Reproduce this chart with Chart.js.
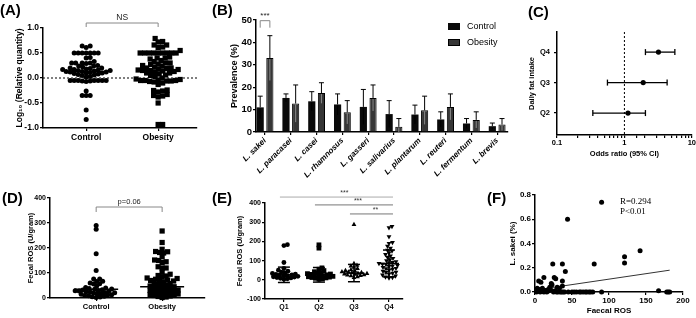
<!DOCTYPE html>
<html>
<head>
<meta charset="utf-8">
<script src="https://cdn.jsdelivr.net/npm/chart.js@4.4.1/dist/chart.umd.min.js"></script>
<style>
  body { margin: 0; background: #fff; }
  #fig { position: relative; width: 696px; height: 318px; overflow: hidden; font-family: 'Liberation Sans', Arial, sans-serif; }
  #fig canvas { position: absolute; }
  .tag { position: absolute; font-size: 15px; font-weight: bold; line-height: 1; }
  .key { position: absolute; font-size: 9px; line-height: 1; white-space: nowrap; }
  .key i { position: absolute; left: -19px; top: 1px; width: 12px; height: 7px; box-sizing: border-box; }
  .stat { position: absolute; font-family: 'Liberation Serif', 'Times New Roman', serif; font-size: 9px; line-height: 1; }
</style>
</head>
<body>
<div id="fig">
  <canvas id="chartA" width="205" height="150" style="left:0;top:0"></canvas>
  <canvas id="chartB" width="290" height="190" style="left:222px;top:0"></canvas>
  <canvas id="chartC" width="191" height="165" style="left:505px;top:0"></canvas>
  <canvas id="chartD" width="210" height="133" style="left:0;top:185px"></canvas>
  <canvas id="chartE" width="180" height="133" style="left:230px;top:185px"></canvas>
  <canvas id="chartF" width="206" height="133" style="left:490px;top:185px"></canvas>

  <div class="tag" style="left:0;top:2px">(A)</div>
  <div class="tag" style="left:212px;top:2px">(B)</div>
  <div class="tag" style="left:528px;top:4px">(C)</div>
  <div class="tag" style="left:2px;top:190px">(D)</div>
  <div class="tag" style="left:212px;top:190px">(E)</div>
  <div class="tag" style="left:487px;top:190px">(F)</div>

  <div class="key" style="left:467px;top:22px"><i style="background:#0a0a0a"></i>Control</div>
  <div class="key" style="left:467px;top:38px"><i style="background:#363636;border:1px solid #000"></i>Obesity</div>

  <div class="stat" style="left:620px;top:197px">R=0.294</div>
  <div class="stat" style="left:620px;top:207px">P&lt;0.01</div>
</div>
<script>
// ---- data ----

// (A) log10 relative quantity
const groupsAD = ['Control', 'Obesity'];
const logRelControl = [0.64, 0.64, 0.61, 0.5, 0.5, 0.5, 0.5, 0.5, 0.5, 0.5, 0.41, 0.4, 0.33, 0.3, 0.3, 0.3, 0.3,
  0.29, 0.25, 0.24, 0.24, 0.22, 0.2, 0.2, 0.19, 0.18, 0.17, 0.17, 0.16, 0.15, 0.15, 0.14, 0.13, 0.13, 0.12, 0.12,
  0.11, 0.1, 0.1, 0.09, 0.08, 0.07, 0.06, 0.05, 0.03, 0.02, -0.05, -0.05, -0.05, -0.05, -0.05, -0.05, -0.05,
  -0.06, -0.06, -0.07, -0.26, -0.35, -0.35, -0.35, -0.64, -0.83];
const logRelObesity = [0.79, 0.73, 0.72, 0.66, 0.66, 0.62, 0.61, 0.55, 0.5, 0.5, 0.5, 0.5, 0.5, 0.5, 0.5, 0.5, 0.5,
  0.42, 0.4, 0.4, 0.38, 0.35, 0.33, 0.3, 0.3, 0.28, 0.27, 0.25, 0.24, 0.22, 0.2, 0.2, 0.19, 0.18, 0.17, 0.16, 0.15,
  0.15, 0.14, 0.13, 0.12, 0.1, 0.1, 0.08, 0.06, 0.05, 0.03, 0.0, -0.02, -0.03, -0.04, -0.05, -0.05, -0.05, -0.06,
  -0.06, -0.07, -0.08, -0.1, -0.13, -0.24, -0.25, -0.26, -0.28, -0.33, -0.35, -0.36, -0.38, -0.5, -0.93, -0.93];
const logRelMeans = [0.13, 0.15];

// (B) prevalence (%), bar value and top of SD whisker
const species = ['L. sakei', 'L. paracasei', 'L. casei', 'L. rhamnosus', 'L. gasseri', 'L. salivarius',
  'L. plantarum', 'L. reuteri', 'L. fermentum', 'L. brevis'];
const prevControl = [11, 15.2, 13.7, 12.3, 11.2, 8.0, 7.8, 5.6, 3.8, 2.6];
const prevControlHi = [16, 17, 18, 17, 19, 14, 12, 9, 6, 4];
const prevObesity = [33, 12.7, 17.4, 8.8, 15.2, 2.3, 9.7, 11.2, 5.4, 3.3];
const prevObesityHi = [43, 21, 22, 14, 21, 6, 16, 17, 9, 6];

// (C) odds ratios by daily fat intake quartile
const fatQuartiles = ['Q2', 'Q3', 'Q4'];
const fatOR = [1.13, 1.9, 3.2];
const fatLow = [0.34, 0.56, 2.05];
const fatHigh = [2.05, 4.3, 5.6];

// (D) fecal ROS (U/gram)
const rosControl = [290, 275, 177, 110, 76, 66, 57, 56, 60, 67, 76, 48, 42, 40, 38, 36, 35, 33, 32, 30, 29, 28,
  26, 25, 24, 22, 21, 20, 18, 16, 15, 13, 12, 10, 9, 7, 5, 4, 2];
const rosObesity = [268, 222, 195, 186, 185, 182, 180, 165, 152, 150, 145, 142, 125, 120, 120, 103, 95, 90, 88,
  85, 80, 78, 75, 72, 70, 70, 68, 65, 60, 58, 55, 52, 50, 48, 45, 43, 40, 38, 36, 34, 32, 30, 28, 26, 24, 22, 20,
  18, 16, 14, 12, 10, 8, 6, 4, 2];
const rosMeans = [35, 45];

// (E) fecal ROS by quartile
const quartiles = ['Q1', 'Q2', 'Q3', 'Q4'];
const rosQ1 = [183, 178, 90, 60, 50, 45, 40, 36, 33, 30, 28, 26, 24, 22, 20, 18, 16, 14, 12, 10, 8, 5, 3];
const rosQ2 = [182, 165, 62, 55, 48, 42, 38, 35, 32, 30, 28, 26, 24, 22, 20, 18, 16, 14, 12, 10, 8, 5, 3];
const rosQ3 = [288, 85, 75, 72, 65, 58, 52, 48, 45, 42, 40, 38, 36, 34, 32, 30, 28, 26, 24, 22, 20, 16, 12];
const rosQ4 = [278, 272, 225, 195, 190, 175, 165, 155, 150, 140, 132, 125, 118, 112, 105, 100, 95, 90, 88, 85,
  82, 80, 75, 72, 70, 65, 60, 58, 55, 50, 45, 40, 38, 35, 30, 25, 20, 15, 12, 10];
const rosQMeans = [26, 26, 35, 85];
const rosQSd = [40, 38, 45, 70];
const rosQSig = [[0, 3, '***', 431], [1, 3, '***', 390], [2, 3, '**', 343]];

// (F) L. sakei (%) vs faecal ROS
const fRos = [90, 44, 142, 121, 121, 80, 24, 37, 41, 12, 26, 28, 5, 8, 37, 37, 22, 23, 20, 3, 6, 10, 15, 18, 30,
  33, 2, 4, 7, 9, 12, 14, 16, 19, 21, 25, 27, 29, 31, 34, 36, 38, 40, 45, 50, 53, 56, 60, 62, 65, 68, 70, 73, 75,
  78, 90, 167, 178, 180, 182];
const fSakei = [0.74, 0.60, 0.34, 0.29, 0.24, 0.23, 0.23, 0.23, 0.17, 0.12, 0.12, 0.11, 0.09, 0.08, 0.09, 0.05,
  0.07, 0.06, 0.04, 0.03, 0.02, 0.03, 0.01, 0.02, 0.04, 0.03, 0, 0.01, 0, 0.01, 0, 0.01, 0, 0.01, 0.02, 0, 0.01,
  0, 0, 0, 0, 0, 0, 0, 0, 0, 0, 0, 0, 0, 0, 0, 0, 0, 0, 0, 0.01, 0, 0, 0];
const fitX = [10, 182];
const fitY = [0.025, 0.18];

// ---- shared setup ----
const FONT = "'Liberation Sans', Arial, sans-serif";
Chart.defaults.font.family = FONT;
Chart.defaults.color = '#000';
Chart.defaults.animation = false;
Chart.defaults.responsive = false;
Chart.defaults.plugins.legend.display = false;
Chart.defaults.plugins.tooltip.enabled = false;

function axis(size, fontSize, extra) {
  const { ticks = {}, ...rest } = extra;
  return {
    afterFit: (s) => { if (s.isHorizontal()) s.height = size; else s.width = size; },
    border: { color: '#000', width: 1.5 },
    grid: { drawOnChartArea: false, color: '#000', lineWidth: 1.2, tickLength: 3 },
    ticks: { color: '#000', font: { size: fontSize, weight: 'bold' }, padding: 1, maxRotation: 0, autoSkip: false, ...ticks },
    ...rest,
  };
}

function axisTitle(text, fontSize, gap) {
  return { display: true, text, color: '#000', font: { size: fontSize, weight: 'bold' }, padding: { top: gap, bottom: gap } };
}

function pinTicks(values) {
  return (s) => { s.ticks = values.map((value) => ({ value })); };
}

function line(ctx, x1, y1, x2, y2) {
  ctx.beginPath();
  ctx.moveTo(x1, y1);
  ctx.lineTo(x2, y2);
  ctx.stroke();
}

// bracket with a label above it, ends dropping `drop` px
function bracket(ctx, x1, x2, y, drop, label, fontSize) {
  ctx.save();
  ctx.strokeStyle = '#888';
  ctx.lineWidth = 1;
  ctx.beginPath();
  ctx.moveTo(x1, y + drop);
  ctx.lineTo(x1, y);
  ctx.lineTo(x2, y);
  ctx.lineTo(x2, y + drop);
  ctx.stroke();
  ctx.fillStyle = '#222';
  ctx.font = `${fontSize}px ${FONT}`;
  ctx.textAlign = 'center';
  ctx.textBaseline = 'bottom';
  ctx.fillText(label, (x1 + x2) / 2, y - 1);
  ctx.restore();
}

// spread a column of values sideways so markers don't pile up
function swarm(chart, values, center, minGap) {
  const xs = chart.scales.x;
  const ys = chart.scales.y;
  const cx = xs.getPixelForValue(center);
  const placed = [];
  return values.slice().sort((a, b) => a - b).map((v) => {
    const py = ys.getPixelForValue(v);
    let px = cx;
    for (let k = 0; k < 600; k++) {
      const tx = cx + (k % 2 ? 1 : -1) * Math.ceil(k / 2) * 0.5;
      if (placed.every((p) => (p.x - tx) ** 2 + (p.y - py) ** 2 >= minGap * minGap)) { px = tx; break; }
    }
    placed.push({ x: px, y: py });
    return { x: xs.getValueForPixel(px), y: v };
  });
}

function dots(style, radius, rotation) {
  return {
    data: [], pointStyle: style, pointRadius: radius, pointRotation: rotation || 0,
    pointBackgroundColor: '#000', pointBorderWidth: 0, clip: false,
  };
}

// ---- (A) ----
const chartA = new Chart(document.getElementById('chartA'), {
  type: 'scatter',
  data: { datasets: [dots('circle', 2.5), dots('rect', 3.7)] },
  options: {
    layout: { padding: { top: 28, right: 8, bottom: 0, left: 0 } },
    scales: {
      x: axis(22, 8.5, { type: 'linear', min: -0.6, max: 1.54, afterBuildTicks: pinTicks([0, 1]),
        ticks: { padding: 2, callback: (v) => groupsAD[v] } }),
      y: axis(43, 8.5, { min: -1, max: 1, afterBuildTicks: pinTicks([-1, -0.5, 0, 0.5, 1]),
        ticks: { callback: (v) => v.toFixed(1) }, title: axisTitle('Log\u2081\u2080 (Relative quantity)', 8.5, 14.9) }),
    },
  },
  plugins: [{
    id: 'marksA',
    beforeDatasetsDraw(chart) {
      const { ctx, chartArea, scales: { y } } = chart;
      ctx.save();
      ctx.strokeStyle = '#000';
      ctx.lineWidth = 1;
      ctx.setLineDash([2, 2]);
      const y0 = y.getPixelForValue(0);
      line(ctx, chartArea.left, y0, chartArea.right, y0);
      ctx.restore();
    },
    afterDatasetsDraw(chart) {
      const { ctx, scales: { x, y } } = chart;
      ctx.save();
      ctx.strokeStyle = '#000';
      ctx.lineWidth = 1.5;
      logRelMeans.forEach((m, i) => {
        const cx = x.getPixelForValue(i);
        const py = y.getPixelForValue(m);
        line(ctx, cx - 21, py, cx + 21, py);
      });
      ctx.restore();
      bracket(ctx, x.getPixelForValue(0), x.getPixelForValue(1), y.getPixelForValue(1.1), 4, 'NS', 8.5);
    },
  }],
});
chartA.data.datasets[0].data = swarm(chartA, logRelControl, 0, 4);
chartA.data.datasets[1].data = swarm(chartA, logRelObesity, 1, 4.4);
chartA.update('none');

// ---- (B) ----
function whiskerPlugin() {
  return {
    id: 'whiskersB',
    afterDatasetsDraw(chart) {
      const { ctx, scales: { y } } = chart;
      const highs = [prevControlHi, prevObesityHi];
      const vals = [prevControl, prevObesity];
      const inner = ['#000', '#8a8a8a'];
      ctx.save();
      ctx.lineWidth = 1;
      chart.getSortedVisibleDatasetMetas().forEach((meta, d) => {
        meta.data.forEach((bar, i) => {
          const top = y.getPixelForValue(vals[d][i]);
          const hi = y.getPixelForValue(highs[d][i]);
          const lo = y.getPixelForValue(2 * vals[d][i] - highs[d][i]);
          ctx.strokeStyle = '#000';
          line(ctx, bar.x, top, bar.x, hi);
          line(ctx, bar.x - 2.5, hi, bar.x + 2.5, hi);
          ctx.strokeStyle = inner[d];
          line(ctx, bar.x, top + 1, bar.x, Math.min(lo, y.getPixelForValue(0)));
        });
      });
      ctx.restore();
      const c = chart.getDatasetMeta(0).data[0];
      const o = chart.getDatasetMeta(1).data[0];
      bracket(ctx, c.x, o.x, y.getPixelForValue(49.7), 7, '***', 8);
    },
  };
}

new Chart(document.getElementById('chartB'), {
  type: 'bar',
  data: {
    datasets: [
      { label: 'Control', data: prevControl.map((v, i) => ({ x: i, y: v })), backgroundColor: '#0a0a0a', borderWidth: 0 },
      { label: 'Obesity', data: prevObesity.map((v, i) => ({ x: i, y: v })), backgroundColor: '#363636', borderColor: '#000', borderWidth: 1 },
    ],
  },
  options: {
    layout: { padding: { top: 20, right: 4, bottom: 0, left: 0 } },
    datasets: { bar: { categoryPercentage: 0.75, barPercentage: 0.74 } },
    scales: {
      x: axis(58, 8, { type: 'linear', offset: false, min: -0.35, max: 9.42, afterBuildTicks: pinTicks(species.map((_, i) => i)),
        grid: { drawOnChartArea: false, offset: false, color: '#000', lineWidth: 1.2, tickLength: 3 },
        ticks: { minRotation: 45, maxRotation: 45, padding: 1, font: { size: 8, weight: 'bold', style: 'italic' },
          callback: (v) => species[v] } }),
      y: axis(34, 9.5, { min: 0, max: 50, afterBuildTicks: pinTicks([0, 10, 20, 30, 40, 50]),
        title: axisTitle('Prevalence (%)', 9, 7.6) }),
    },
  },
  plugins: [whiskerPlugin()],
});

// ---- (C) ----
new Chart(document.getElementById('chartC'), {
  type: 'scatter',
  data: { datasets: [{ ...dots('circle', 2.6), data: fatOR.map((v, i) => ({ x: v, y: i })) }] },
  options: {
    layout: { padding: { top: 32, right: 4, bottom: 0, left: 0 } },
    scales: {
      x: axis(30, 7.5, { type: 'logarithmic', min: 0.1, max: 10,
        ticks: { padding: 0, callback: (v) => {
          const l = Math.log10(v);
          return Math.abs(l - Math.round(l)) < 1e-6 ? String(+v.toPrecision(3)) : '';
        } },
        title: axisTitle('Odds ratio (95% CI)', 7.5, 6.5) }),
      y: axis(52, 7.5, { min: -0.72, max: 2.66, afterBuildTicks: pinTicks([0, 1, 2]),
        ticks: { padding: 4, callback: (v) => fatQuartiles[v] },
        title: axisTitle('Daily fat intake', 7.5, 22.5) }),
    },
  },
  plugins: [{
    id: 'ciC',
    beforeDatasetsDraw(chart) {
      const { ctx, chartArea, scales: { x, y } } = chart;
      ctx.save();
      ctx.strokeStyle = '#000';
      ctx.lineWidth = 1;
      ctx.setLineDash([2, 2]);
      const x1 = x.getPixelForValue(1);
      line(ctx, x1, chartArea.top, x1, chartArea.bottom);
      ctx.setLineDash([]);
      ctx.lineWidth = 1.3;
      fatOR.forEach((_, i) => {
        const py = y.getPixelForValue(i);
        const a = x.getPixelForValue(fatLow[i]);
        const b = x.getPixelForValue(fatHigh[i]);
        line(ctx, a, py, b, py);
        line(ctx, a, py - 3, a, py + 3);
        line(ctx, b, py - 3, b, py + 3);
      });
      ctx.restore();
    },
  }],
});

// ---- (D) ----
const chartD = new Chart(document.getElementById('chartD'), {
  type: 'scatter',
  data: { datasets: [dots('circle', 2.5), dots('rect', 3.7)] },
  options: {
    layout: { padding: { top: 13, right: 5, bottom: 0, left: 0 } },
    scales: {
      x: axis(20, 7.5, { type: 'linear', min: -0.7, max: 1.65, afterBuildTicks: pinTicks([0, 1]),
        ticks: { padding: 1, callback: (v) => groupsAD[v] } }),
      y: axis(50, 7, { min: 0, max: 400, afterBuildTicks: pinTicks([0, 100, 200, 300, 400]),
        title: axisTitle('Fecal ROS (U/gram)', 7.5, 26.5) }),
    },
  },
  plugins: [{
    id: 'marksD',
    afterDatasetsDraw(chart) {
      const { ctx, scales: { x, y } } = chart;
      ctx.save();
      ctx.strokeStyle = '#000';
      ctx.lineWidth = 1.5;
      rosMeans.forEach((m, i) => {
        const cx = x.getPixelForValue(i);
        const py = y.getPixelForValue(m);
        line(ctx, cx - 22, py, cx + 22, py);
      });
      ctx.restore();
      bracket(ctx, x.getPixelForValue(0), x.getPixelForValue(1), y.getPixelForValue(364), 5, 'p=0.06', 7.5);
    },
  }],
});
chartD.data.datasets[0].data = swarm(chartD, rosControl, 0, 3.6);
chartD.data.datasets[1].data = swarm(chartD, rosObesity, 1, 4);
chartD.update('none');

// ---- (E) ----
const chartE = new Chart(document.getElementById('chartE'), {
  type: 'scatter',
  data: { datasets: [dots('circle', 2.4), dots('rect', 3.4), dots('triangle', 2.8), dots('triangle', 2.8, 180)] },
  options: {
    layout: { padding: { top: 18, right: 7, bottom: 0, left: 0 } },
    scales: {
      x: axis(19, 7, { type: 'linear', min: -0.54, max: 3.4, afterBuildTicks: pinTicks([0, 1, 2, 3]),
        ticks: { padding: 1, callback: (v) => quartiles[v] } }),
      y: axis(35, 7, { min: -100, max: 400, afterBuildTicks: pinTicks([-100, 0, 100, 200, 300, 400]),
        title: axisTitle('Fecal ROS (U/gram)', 7.5, 5.5) }),
    },
  },
  plugins: [{
    id: 'marksE',
    afterDatasetsDraw(chart) {
      const { ctx, scales: { x, y } } = chart;
      ctx.save();
      ctx.strokeStyle = '#000';
      ctx.lineWidth = 1.5;
      rosQMeans.forEach((m, i) => {
        const cx = x.getPixelForValue(i);
        const pm = y.getPixelForValue(m);
        const ph = y.getPixelForValue(m + rosQSd[i]);
        const pl = y.getPixelForValue(m - rosQSd[i]);
        line(ctx, cx - 10, pm, cx + 10, pm);
        line(ctx, cx, ph, cx, pl);
        line(ctx, cx - 6, ph, cx + 6, ph);
        line(ctx, cx - 6, pl, cx + 6, pl);
      });
      ctx.lineWidth = 1;
      ctx.font = `7px ${FONT}`;
      ctx.textAlign = 'center';
      ctx.textBaseline = 'bottom';
      rosQSig.forEach(([a, b, label, at], k) => {
        const x1 = x.getPixelForValue(a) - 4;
        const x2 = x.getPixelForValue(b) + 4;
        const py = y.getPixelForValue(at);
        ctx.strokeStyle = k === 0 ? '#aaa' : '#777';
        line(ctx, x1, py, x2, py);
        ctx.fillStyle = '#333';
        ctx.fillText(label, (x1 + x2) / 2 + (k === 0 ? 8 : 4), py);
      });
      ctx.restore();
    },
  }],
});
[rosQ1, rosQ2, rosQ3, rosQ4].forEach((vals, i) => {
  chartE.data.datasets[i].data = swarm(chartE, vals, i, 3.2);
});
chartE.update('none');

// ---- (F) ----
new Chart(document.getElementById('chartF'), {
  type: 'scatter',
  data: {
    datasets: [
      { ...dots('circle', 2.5), data: fRos.map((x, i) => ({ x, y: fSakei[i] })) },
      { data: fitX.map((x, i) => ({ x, y: fitY[i] })), showLine: true, pointRadius: 0, borderColor: '#333', borderWidth: 1 },
    ],
  },
  options: {
    layout: { padding: { top: 10, right: 13, bottom: 0, left: 0 } },
    scales: {
      x: axis(26, 8, { min: 0, max: 200, afterBuildTicks: pinTicks([0, 50, 100, 150, 200]),
        title: axisTitle('Faecal ROS', 8, 2.5) }),
      y: axis(45, 8, { min: 0, max: 0.8, afterBuildTicks: pinTicks([0, 0.2, 0.4, 0.6, 0.8]),
        ticks: { callback: (v) => v.toFixed(1) }, title: axisTitle('L. sakei (%)', 8, 17.5) }),
    },
  },
});
</script>
</body>
</html>
